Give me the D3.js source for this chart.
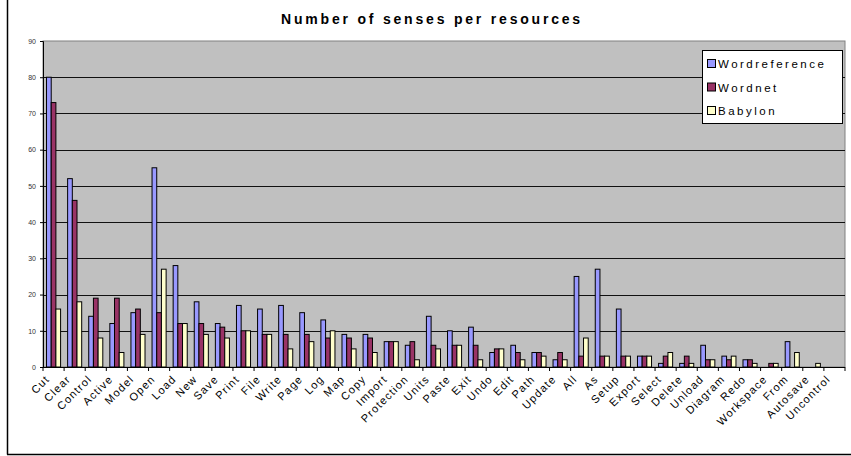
<!DOCTYPE html>
<html>
<head>
<meta charset="utf-8">
<script src="https://cdn.jsdelivr.net/npm/d3@7"></script>
<style>
  body { margin: 0; background: #fff; }
  svg { display: block; font-family: "Liberation Sans", Arial, sans-serif; }
</style>
</head>
<body>
<svg width="851" height="456"></svg>
<script>
var categories = ["Cut","Clear","Control","Active","Model","Open","Load","New","Save","Print",
  "File","Write","Page","Log","Map","Copy","Import","Protection","Units","Paste",
  "Exit","Undo","Edit","Path","Update","All","As","Setup","Export","Select",
  "Delete","Unload","Diagram","Redo","Workspace","From","Autosave","Uncontrol"];
var wordreference = [80,52,14,12,15,55,28,18,12,17,16,17,15,13,9,9,7,6,14,10,11,4,6,4,2,25,27,16,3,1,1,6,3,2,0,7,0,0];
var wordnet = [73,46,19,19,16,15,12,12,11,10,9,9,9,8,8,8,7,7,6,6,6,5,4,4,4,3,3,3,3,3,3,2,2,2,1,0,0,0];
var babylon = [16,18,8,4,9,27,12,9,8,10,9,5,7,10,5,4,7,2,5,6,2,5,2,3,2,8,3,3,3,4,1,2,3,1,1,4,1,0];
var seriesNames = ["Wordreference","Wordnet","Babylon"];
var colors = ["#9999ff","#993366","#ffffcc"];
var yTicks = [0,10,20,30,40,50,60,70,80,90];

var series = [wordreference, wordnet, babylon];

var svg = d3.select("svg"),
    margin = {top: 41, right: 6, bottom: 89, left: 43},
    width = +svg.attr("width") - margin.left - margin.right,
    height = +svg.attr("height") - margin.top - margin.bottom;

// chart border (only left and bottom show)
svg.append("line").attr("x1", 7.5).attr("x2", 7.5).attr("y1", 0).attr("y2", 454.5)
   .attr("stroke", "#000").attr("stroke-width", 1.5);
svg.append("line").attr("x1", 7).attr("x2", 851).attr("y1", 454.5).attr("y2", 454.5)
   .attr("stroke", "#000").attr("stroke-width", 1.5);

svg.append("text")
   .attr("x", 432).attr("y", 24)
   .attr("text-anchor", "middle")
   .attr("font-size", "14px").attr("font-weight", "bold")
   .attr("letter-spacing", "2.8px")
   .text("Number of senses per resources");

var g = svg.append("g")
    .attr("transform", "translate(" + margin.left + "," + margin.top + ")");

var xScale = d3.scaleBand().domain(categories).range([0, width])
    .paddingInner(1/3).paddingOuter(1/6);
var xSub = d3.scaleBand().domain(seriesNames).range([0, xScale.bandwidth()]);
var yScale = d3.scaleLinear().domain([0, 90]).range([height, 0]);

// plot background
g.append("rect").attr("width", width).attr("height", height)
 .attr("fill", "#c0c0c0").attr("stroke", "#808080").attr("stroke-width", 1);

// gridlines
g.selectAll(".grid").data(yTicks.filter(function(d){ return d > 0 && d < 90; }))
 .enter().append("line")
 .attr("x1", 0).attr("x2", width)
 .attr("y1", function(d){ return Math.round(yScale(d)) + 0.5; })
 .attr("y2", function(d){ return Math.round(yScale(d)) + 0.5; })
 .attr("stroke", "#111");

// bars
series.forEach(function(vals, si) {
  g.selectAll(".bar" + si)
   .data(categories.map(function(c, i){ return {c: c, v: vals[i]}; }).filter(function(d){ return d.v > 0; }))
   .enter().append("rect")
   .attr("x", function(d){ return xScale(d.c) + xSub(seriesNames[si]); })
   .attr("width", xSub.bandwidth())
   .attr("y", function(d){ return yScale(d.v); })
   .attr("height", function(d){ return height - yScale(d.v); })
   .attr("fill", colors[si])
   .attr("stroke", "#000").attr("stroke-width", 1);
});

// y axis
var yAxis = g.append("g")
  .call(d3.axisLeft(yScale).tickValues(yTicks).tickSize(3).tickPadding(4));
yAxis.select(".domain").attr("stroke", "#000");
yAxis.selectAll("text").attr("font-size", "7px").attr("fill", "#333")
  .attr("font-family", "Arial, 'Liberation Sans', sans-serif");

// x axis with ticks at category boundaries
var step = xScale.step();
var xg = g.append("g").attr("transform", "translate(0," + height + ")");
xg.append("line").attr("x1", 0).attr("x2", width).attr("y1", 0.5).attr("y2", 0.5).attr("stroke", "#000");
xg.selectAll(".tk").data(d3.range(categories.length + 1)).enter().append("line")
  .attr("x1", function(i){ return i * step; }).attr("x2", function(i){ return i * step; })
  .attr("y1", 0).attr("y2", 4).attr("stroke", "#000");

xg.selectAll(".lbl").data(categories).enter().append("text")
  .attr("transform", function(d){
    var cx = xScale(d) + xScale.bandwidth() / 2 - 6;
    return "translate(" + cx + ",10) rotate(-45)";
  })
  .attr("text-anchor", "end")
  .attr("dy", "0.35em")
  .attr("font-size", "11px")
  .attr("letter-spacing", "1.2px")
  .text(function(d){ return d; });

// legend
var lg = svg.append("g").attr("transform", "translate(702,50)");
lg.append("rect").attr("x", 0.5).attr("y", 0.5).attr("width", 140).attr("height", 73)
  .attr("fill", "#fff").attr("stroke", "#000");
seriesNames.forEach(function(name, i) {
  var yy = 14 + i * 23.5;
  lg.append("rect").attr("x", 5.5).attr("y", yy - 4.5).attr("width", 8).attr("height", 8)
    .attr("fill", colors[i]).attr("stroke", "#000");
  lg.append("text").attr("x", 16).attr("y", yy).attr("dy", "0.35em")
    .attr("font-size", "11.5px").attr("letter-spacing", "2.5px")
    .text(name);
});
</script>
</body>
</html>
